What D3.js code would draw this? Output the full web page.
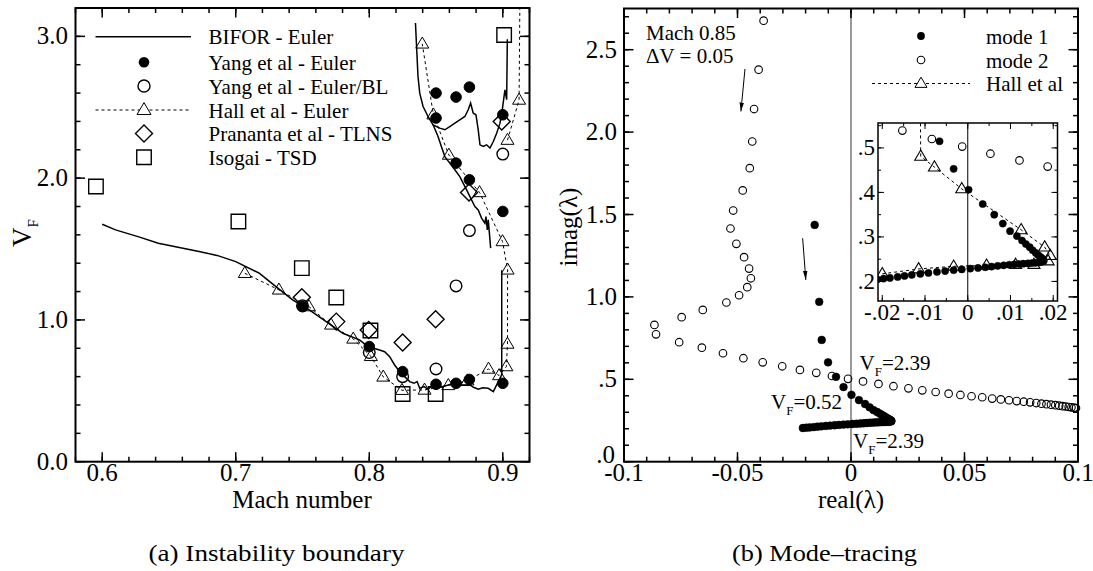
<!DOCTYPE html>
<html><head><meta charset="utf-8">
<script src="https://cdn.jsdelivr.net/npm/d3@7"></script>
<style>
html,body{margin:0;padding:0;background:#fff;}
svg{display:block;font-family:"Liberation Serif","Times New Roman",serif;}
</style></head><body>
<svg id="c" width="1093" height="571"></svg>
<script>
// ================= DATA =================
// ---- panel (a): instability boundary ----
const machTicks = [0.6, 0.7, 0.8, 0.9];
const machTickLabels = ["0.6", "0.7", "0.8", "0.9"];
const vfTicks = [0, 1, 2, 3];
const vfTickLabels = ["0.0", "1.0", "2.0", "3.0"];

const biforLower = [[0.600,1.675],[0.610,1.635],[0.628,1.584],[0.642,1.541],[0.654,1.518],[0.6725,1.482],[0.686,1.455],[0.700,1.411],[0.7176,1.33],[0.7301,1.235],[0.7426,1.141],[0.7551,1.071],[0.7677,0.988],[0.7802,0.906],[0.7927,0.859],[0.799,0.812],[0.8077,0.788],[0.8115,0.776],[0.8153,0.741],[0.819,0.682],[0.8228,0.635],[0.8265,0.60],[0.8303,0.565],[0.8335,0.553],[0.8358,0.565],[0.8378,0.518],[0.841,0.53],[0.844,0.511],[0.8478,0.541],[0.8515,0.52],[0.8566,0.534],[0.8605,0.545],[0.8654,0.553],[0.869,0.54],[0.8754,0.541],[0.878,0.525],[0.8816,0.511],[0.885,0.522],[0.8891,0.518],[0.8929,0.494],[0.8966,0.565],[0.8992,0.612],[0.8992,1.351]];
const biforUpper = [[0.8346,3.094],[0.8353,2.953],[0.8365,2.717],[0.8378,2.60],[0.8403,2.505],[0.844,2.435],[0.8478,2.376],[0.8528,2.353],[0.8566,2.341],[0.8603,2.364],[0.8641,2.388],[0.8678,2.411],[0.8716,2.435],[0.8741,2.482],[0.8759,2.529],[0.8778,2.459],[0.8799,2.447],[0.8816,2.341],[0.8829,2.235],[0.8854,2.223],[0.8879,2.235],[0.8904,2.212],[0.8929,2.258],[0.8954,2.317],[0.8979,2.388],[0.8996,2.482],[0.9016,2.623],[0.9029,2.553],[0.9034,2.98]];
const biforMiddle = [[0.8478,2.376],[0.8515,2.294],[0.854,2.223],[0.8566,2.152],[0.8603,2.106],[0.8641,2.059],[0.8678,2.011],[0.8703,1.965],[0.8729,1.917],[0.8754,1.870],[0.8791,1.80],[0.8816,1.776],[0.8841,1.718],[0.8866,1.682],[0.8874,1.729],[0.8884,1.635],[0.8891,1.706],[0.8904,1.565],[0.8909,1.506]];

const yangEuler = [[0.75,1.094],[0.80,0.812],[0.825,0.635],[0.85,0.546],[0.865,0.553],[0.875,0.58],[0.90,0.553],[0.85,2.60],[0.865,2.572],[0.875,2.642],[0.85,2.424],[0.865,2.106],[0.875,1.988],[0.90,2.447],[0.90,1.765]];
const yangEulerBL = [[0.75,1.10],[0.80,0.77],[0.825,0.60],[0.85,0.654],[0.865,1.24],[0.875,1.63],[0.90,2.17]];
const hallMain = [[0.7068,1.329],[0.7323,1.212],[0.7548,1.094],[0.7714,0.965],[0.788,0.866],[0.8012,0.743],[0.8105,0.598],[0.8245,0.504],[0.8414,0.506],[0.8592,0.538],[0.8735,0.571],[0.8893,0.654],[0.8972,0.608],[0.9027,0.671],[0.9035,0.830],[0.9036,1.353],[0.8998,1.553],[0.8826,1.899],[0.8596,2.163],[0.8480,2.447],[0.8397,2.947]];
const hallUpperRight = [[0.9035,2.268],[0.9122,2.551]];
const hallUpperRightLine = [[0.9035,2.268],[0.9122,2.551],[0.9128,3.25]];
const prananta = [[0.7495,1.16],[0.7753,0.988],[0.7996,0.929],[0.825,0.84],[0.8497,1.005],[0.8747,1.899],[0.8992,2.40]];
const isogai = [[0.5953,1.941],[0.702,1.694],[0.7495,1.365],[0.7753,1.158],[0.8009,0.925],[0.825,0.478],[0.8497,0.478],[0.901,3.01]];

const legendA = ["BIFOR - Euler", "Yang et al - Euler", "Yang et al - Euler/BL", "Hall et al - Euler", "Prananta et al - TLNS", "Isogai - TSD"];

// ---- panel (b): mode tracing ----
const reTicks = [-0.1, -0.05, 0, 0.05, 0.1];
const reTickLabels = ["-0.1", "-0.05", "0", "0.05", "0.1"];
const imTicks = [0, 0.5, 1.0, 1.5, 2.0, 2.5];
const imTickLabels = [".0", ".5", "1.0", "1.5", "2.0", "2.5"];
const insetReTicks = [-0.02, -0.01, 0, 0.01, 0.02];
const insetReTickLabels = ["-.02", "-.01", "0", ".01", ".02"];
const insetImTicks = [0.2, 0.3, 0.4, 0.5];
const insetImTickLabels = [".2", ".3", ".4", ".5"];

const mode1 = [[-0.0160,1.437],[-0.0140,0.970],[-0.0129,0.739],[-0.0101,0.603],[-0.0066,0.515],[-0.0033,0.453],[0.0002,0.406],[0.0035,0.374],[0.0062,0.350],[0.0082,0.330],[0.0099,0.313],[0.0115,0.302],[0.0127,0.292],[0.0136,0.284],[0.0145,0.277],[0.0152,0.270],[0.0159,0.264],[0.0165,0.259],[0.0170,0.255],[0.0174,0.252],[0.0177,0.249],[0.0178,0.2465],[0.0176,0.2448],[0.0171,0.2435],[0.0165,0.2425],[0.0158,0.2418],[0.0150,0.2412],[0.0141,0.2405],[0.0130,0.2398],[0.0120,0.2392],[0.0109,0.2385],[0.0097,0.2375],[0.0084,0.2362],[0.0070,0.2348],[0.0056,0.2333],[0.0041,0.2318],[0.0024,0.2303],[0.0006,0.2288],[-0.0014,0.2270],[-0.0033,0.2253],[-0.0053,0.2232],[-0.0072,0.2213],[-0.0092,0.2191],[-0.0111,0.2169],[-0.0131,0.2146],[-0.0148,0.2124],[-0.0164,0.2101],[-0.0182,0.2079],[-0.0197,0.2063],[-0.0212,0.2045]];
const mode2 = [[-0.0385,2.676],[-0.0407,2.379],[-0.0427,2.140],[-0.0435,1.943],[-0.0446,1.781],[-0.0477,1.646],[-0.0519,1.524],[-0.0531,1.415],[-0.0505,1.322],[-0.0471,1.241],[-0.0449,1.172],[-0.0441,1.113],[-0.0457,1.059],[-0.0493,1.010],[-0.0549,0.966],[-0.0653,0.921],[-0.0746,0.877],[-0.0866,0.830],[-0.0859,0.773],[-0.0757,0.725],[-0.0657,0.692],[-0.0564,0.658],[-0.0474,0.628],[-0.0389,0.603],[-0.0303,0.579],[-0.0225,0.557],[-0.0153,0.539],[-0.0084,0.520],[-0.0013,0.503],[0.0053,0.487],[0.0121,0.472],[0.0187,0.458],[0.0253,0.445],[0.0314,0.433],[0.0373,0.423],[0.0430,0.413],[0.0482,0.405],[0.0531,0.397],[0.0578,0.391],[0.0622,0.383],[0.0660,0.378],[0.0696,0.373],[0.0730,0.368],[0.0761,0.364],[0.0789,0.360],[0.0816,0.356],[0.0839,0.352],[0.0861,0.349],[0.0881,0.346],[0.0900,0.343],[0.0917,0.340],[0.0932,0.337],[0.0946,0.335],[0.0959,0.332],[0.0971,0.330],[0.0982,0.328],[0.0991,0.326]];
const hallInset = [[-0.0200,0.217],[-0.0115,0.228],[-0.0033,0.234],[0.0044,0.236],[0.0112,0.238],[0.0155,0.238],[0.0188,0.246],[0.0193,0.258],[0.0180,0.277],[0.0125,0.316],[-0.0014,0.408],[-0.0078,0.457],[-0.0110,0.481]];
const hallInsetTail = [[-0.0110,0.481],[-0.0111,0.60]];
const legendB = ["mode 1", "mode 2", "Hall et al"];
const arrowsB = [[[-0.0467,2.383],[-0.0485,2.125]],[[-0.0213,1.356],[-0.0199,1.103]]];

// ================= DRAWING =================
const svg = d3.select("#c");

function drawTicks(g, xs, ys, xMaj, xMin, yMaj, yMin, L, l, w) {
  const [x0, x1] = xs.range(), [y0, y1] = ys.range();
  const add = (a, b, c, d) => g.append("line").attr("x1", a).attr("y1", b).attr("x2", c).attr("y2", d)
    .attr("stroke", "#000").attr("stroke-width", w);
  xMin.forEach(v => { const p = xs(v); add(p, y0, p, y0 - l); add(p, y1, p, y1 + l); });
  xMaj.forEach(v => { const p = xs(v); add(p, y0, p, y0 - L); add(p, y1, p, y1 + L); });
  yMin.forEach(v => { const p = ys(v); add(x0, p, x0 + l, p); add(x1, p, x1 - l, p); });
  yMaj.forEach(v => { const p = ys(v); add(x0, p, x0 + L, p); add(x1, p, x1 - L, p); });
}
function frameRect(g, xs, ys, w) {
  const [x0, x1] = xs.range(), [y0, y1] = ys.range();
  g.append("rect").attr("x", x0).attr("y", y1).attr("width", x1 - x0).attr("height", y0 - y1)
    .attr("fill", "none").attr("stroke", "#000").attr("stroke-width", w);
}
const tri = (s) => { const h = s * 0.85; return `M0,${-h*0.62}L${s/2},${h*0.38}L${-s/2},${h*0.38}Z`; };
const diamond = (r) => `M0,${-r}L${r},0L0,${r}L${-r},0Z`;
const square = (s) => `M${-s/2},${-s/2}h${s}v${s}h${-s}Z`;

function markers(g, data, xs, ys, kind, size, filled, sw) {
  data.forEach(d => {
    const cx = xs(d[0]), cy = ys(d[1]);
    if (kind === "circle") {
      g.append("circle").attr("cx", cx).attr("cy", cy).attr("r", size)
        .attr("fill", filled ? "#000" : "none").attr("stroke", "#000").attr("stroke-width", sw);
    } else {
      const p = kind === "tri" ? tri(size) : kind === "diamond" ? diamond(size) : square(size);
      g.append("path").attr("d", p).attr("transform", `translate(${cx},${cy})`)
        .attr("fill", "none").attr("stroke", "#000").attr("stroke-width", sw);
    }
  });
}

// ---------- Panel (a) ----------
const xA = d3.scaleLinear().domain([0.58, 0.92]).range([75.5, 529.5]);
const yA = d3.scaleLinear().domain([0, 3.2]).range([461.7, 8]);
const gA = svg.append("g");
const defs = svg.append("defs");
defs.append("clipPath").attr("id", "clipA").append("rect")
  .attr("x", 75.5).attr("y", 8).attr("width", 454).attr("height", 453.7);
const gAd = gA.append("g").attr("clip-path", "url(#clipA)");
const lineA = d3.line().x(d => xA(d[0])).y(d => yA(d[1]));

[biforLower, biforUpper, biforMiddle].forEach(s =>
  gAd.append("path").attr("d", lineA(s)).attr("fill", "none").attr("stroke", "#000").attr("stroke-width", 1.5));
[hallMain, hallUpperRightLine].forEach(s =>
  gAd.append("path").attr("d", lineA(s)).attr("fill", "none").attr("stroke", "#000").attr("stroke-width", 1).attr("stroke-dasharray", "3,3"));
markers(gAd, hallMain, xA, yA, "tri", 13, false, 1);
markers(gAd, hallUpperRight, xA, yA, "tri", 13, false, 1);
markers(gAd, isogai, xA, yA, "square", 14.5, false, 1.4);
markers(gAd, prananta, xA, yA, "diamond", 8.5, false, 1.4);
markers(gAd, yangEulerBL, xA, yA, "circle", 5.8, false, 1.4);
markers(gAd, yangEuler, xA, yA, "circle", 5.3, true, 1);

drawTicks(gA, xA, yA, machTicks, d3.range(29, 47).map(i => +(i * 0.02).toFixed(2)),
  vfTicks, d3.range(0, 17).map(i => +(i * 0.2).toFixed(1)), 9.5, 5, 1.5);
frameRect(gA, xA, yA, 2);

machTicks.forEach((v, i) => gA.append("text").attr("x", xA(v)).attr("y", 481).attr("text-anchor", "middle")
  .attr("font-size", 25).text(machTickLabels[i]));
vfTicks.forEach((v, i) => gA.append("text").attr("x", 68).attr("y", yA(v) + 8).attr("text-anchor", "end")
  .attr("font-size", 25).text(vfTickLabels[i]));
gA.append("text").attr("x", 302).attr("y", 508).attr("text-anchor", "middle").attr("font-size", 25).text("Mach number");
const vfl = gA.append("text").attr("transform", "translate(31,247) rotate(-90)").attr("font-size", 27);
vfl.append("tspan").text("V");
vfl.append("tspan").attr("font-size", 15).attr("dy", 7).text("F");

// legend (a)
const legY = [36.7, 62.3, 86, 110, 133.6, 157.3];
const lgA = gA.append("g");
lgA.append("line").attr("x1", 95.5).attr("x2", 191).attr("y1", legY[0]).attr("y2", legY[0]).attr("stroke", "#000").attr("stroke-width", 1.5);
lgA.append("circle").attr("cx", 144).attr("cy", legY[1]).attr("r", 5.3).attr("fill", "#000");
lgA.append("circle").attr("cx", 144).attr("cy", legY[2]).attr("r", 6).attr("fill", "none").attr("stroke", "#000").attr("stroke-width", 1.4);
lgA.append("line").attr("x1", 95.5).attr("x2", 191).attr("y1", legY[3]).attr("y2", legY[3]).attr("stroke", "#000").attr("stroke-width", 1).attr("stroke-dasharray", "3,3");
lgA.append("path").attr("d", tri(14)).attr("transform", `translate(144,${legY[3]})`).attr("fill", "#fff").attr("stroke", "#000");
lgA.append("path").attr("d", diamond(8.5)).attr("transform", `translate(144,${legY[4]})`).attr("fill", "none").attr("stroke", "#000").attr("stroke-width", 1.4);
lgA.append("path").attr("d", square(14.5)).attr("transform", `translate(144,${legY[5]})`).attr("fill", "none").attr("stroke", "#000").attr("stroke-width", 1.4);
legendA.forEach((t, i) => lgA.append("text").attr("x", 208.5).attr("y", legY[i] + 7.5).attr("font-size", 21).text(t));

// ---------- Panel (b) ----------
const xB = d3.scaleLinear().domain([-0.1, 0.1]).range([624, 1078]);
const yB = d3.scaleLinear().domain([0, 2.75]).range([461.7, 8.5]);
const gB = svg.append("g");
gB.append("line").attr("x1", xB(0)).attr("x2", xB(0)).attr("y1", yB(0)).attr("y2", yB(2.75)).attr("stroke", "#777").attr("stroke-width", 1.5);
markers(gB, mode2, xB, yB, "circle", 3.8, false, 1.1);
markers(gB, mode1, xB, yB, "circle", 3.9, true, 0.5);

defs.append("marker").attr("id", "ah").attr("viewBox", "0 0 10 10").attr("refX", 10).attr("refY", 5)
  .attr("markerWidth", 9).attr("markerHeight", 9).attr("markerUnits", "userSpaceOnUse").attr("orient", "auto")
  .append("path").attr("d", "M0,2.5L10,5L0,7.5Z").attr("fill", "#000");
arrowsB.forEach(a => gB.append("line").attr("x1", xB(a[0][0])).attr("y1", yB(a[0][1]))
  .attr("x2", xB(a[1][0])).attr("y2", yB(a[1][1])).attr("stroke", "#000").attr("stroke-width", 1).attr("marker-end", "url(#ah)"));

drawTicks(gB, xB, yB, reTicks, d3.range(-10, 11).map(i => +(i * 0.01).toFixed(2)),
  imTicks, d3.range(0, 28).map(i => +(i * 0.1).toFixed(1)), 9.5, 5, 1.5);
frameRect(gB, xB, yB, 2);

reTicks.forEach((v, i) => gB.append("text").attr("x", xB(v)).attr("y", 481).attr("text-anchor", "middle")
  .attr("font-size", 25).text(reTickLabels[i]));
imTicks.forEach((v, i) => gB.append("text").attr("x", i === 0 ? 615 : 617).attr("y", yB(v) + (i === 0 ? 1 : 8)).attr("text-anchor", "end")
  .attr("font-size", 25).text(imTickLabels[i]));
gB.append("text").attr("x", 851).attr("y", 508).attr("text-anchor", "middle").attr("font-size", 25).text("real(λ)");
gB.append("text").attr("transform", "translate(577,227) rotate(-90)").attr("text-anchor", "middle").attr("font-size", 25).text("imag(λ)");

gB.append("text").attr("x", 646).attr("y", 40).attr("font-size", 21).text("Mach 0.85");
gB.append("text").attr("x", 646).attr("y", 63).attr("font-size", 21).text("ΔV = 0.05");

function vfLabel(x, y, val) {
  const t = gB.append("text").attr("x", x).attr("y", y).attr("font-size", 21);
  t.append("tspan").text("V");
  t.append("tspan").attr("font-size", 13).attr("dy", 6).text("F");
  t.append("tspan").attr("dy", -6).text("=" + val);
}
vfLabel(859.5, 370, "2.39");
vfLabel(771, 409, "0.52");
vfLabel(853, 448, "2.39");

// legend (b)
const legYB = [36, 60, 83.5];
gB.append("circle").attr("cx", 921).attr("cy", legYB[0]).attr("r", 3.9).attr("fill", "#000");
gB.append("circle").attr("cx", 921).attr("cy", legYB[1]).attr("r", 3.8).attr("fill", "none").attr("stroke", "#000").attr("stroke-width", 1.1);
gB.append("line").attr("x1", 872).attr("x2", 970).attr("y1", legYB[2]).attr("y2", legYB[2]).attr("stroke", "#000").attr("stroke-width", 1).attr("stroke-dasharray", "3,3");
gB.append("path").attr("d", tri(12)).attr("transform", `translate(921,${legYB[2]})`).attr("fill", "#fff").attr("stroke", "#000");
legendB.forEach((t, i) => gB.append("text").attr("x", 986).attr("y", legYB[i] + 7.5).attr("font-size", 21).text(t));

// ---------- Inset ----------
const xI = d3.scaleLinear().domain([-0.021, 0.021]).range([878, 1057.5]);
const yI = d3.scaleLinear().domain([0.156, 0.556]).range([301, 123]);
const gI = svg.append("g");
gI.append("rect").attr("x", 878).attr("y", 123).attr("width", 179.5).attr("height", 178).attr("fill", "#fff");
defs.append("clipPath").attr("id", "clipI").append("rect").attr("x", 878).attr("y", 123).attr("width", 179.5).attr("height", 178);
const gIc = gI.append("g").attr("clip-path", "url(#clipI)");
gIc.append("line").attr("x1", xI(0)).attr("x2", xI(0)).attr("y1", 123).attr("y2", 301).attr("stroke", "#000").attr("stroke-width", 1);
const lineI = d3.line().x(d => xI(d[0])).y(d => yI(d[1]));
gIc.append("path").attr("d", lineI(hallInset)).attr("fill", "none").attr("stroke", "#000").attr("stroke-width", 1).attr("stroke-dasharray", "3,3");
gIc.append("path").attr("d", lineI(hallInsetTail)).attr("fill", "none").attr("stroke", "#000").attr("stroke-width", 1).attr("stroke-dasharray", "3,3");
markers(gIc, mode2, xI, yI, "circle", 3.8, false, 1.1);
markers(gIc, mode1, xI, yI, "circle", 3.6, true, 0.5);
markers(gIc, hallInset, xI, yI, "tri", 12, false, 1.1);
drawTicks(gI, xI, yI, insetReTicks, d3.range(-4, 5).map(i => +(i * 0.005).toFixed(3)),
  insetImTicks, d3.range(4, 12).map(i => +(i * 0.05).toFixed(2)), 6, 3, 1);
frameRect(gI, xI, yI, 1.5);
insetReTicks.forEach((v, i) => gI.append("text").attr("x", xI(v)).attr("y", 320).attr("text-anchor", "middle")
  .attr("font-size", 23).text(insetReTickLabels[i]));
insetImTicks.forEach((v, i) => gI.append("text").attr("x", 875).attr("y", yI(v) + 7.5).attr("text-anchor", "end")
  .attr("font-size", 23).text(insetImTickLabels[i]));

// ---------- captions ----------
svg.append("text").attr("x", 148.5).attr("y", 561).attr("font-size", 23)
  .attr("textLength", 256).attr("lengthAdjust", "spacingAndGlyphs").text("(a) Instability boundary");
svg.append("text").attr("x", 732).attr("y", 561).attr("font-size", 23)
  .attr("textLength", 185).attr("lengthAdjust", "spacingAndGlyphs").text("(b) Mode–tracing");
</script>
</body></html>
